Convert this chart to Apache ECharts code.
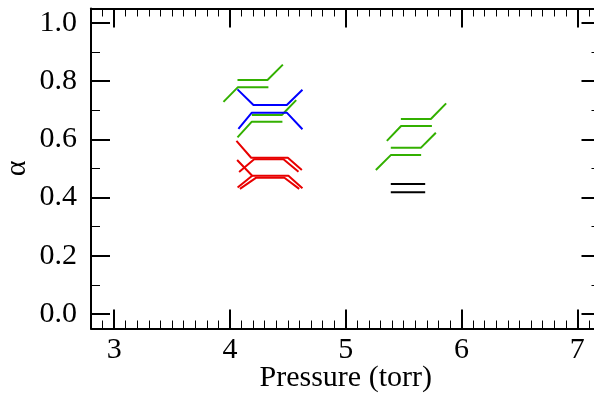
<!DOCTYPE html>
<html>
<head>
<meta charset="utf-8">
<script src="https://cdn.jsdelivr.net/npm/echarts@6/dist/echarts.min.js"></script>
<style>
  html, body { margin: 0; padding: 0; background: #fff; }
  #chart { width: 594px; height: 394px; }
</style>
</head>
<body>
<div id="chart"></div>
<script>
// tick values
const xMajor = [3, 4, 5, 6, 7]
const yMajor = [0, 0.2, 0.4, 0.6, 0.8, 1.0]
const yMinor = [0.1, 0.3, 0.5, 0.7, 0.9]

// line segments, [pressure, alpha]
const greenLines = [
  [[4.065, 0.804], [4.324, 0.804], [4.457, 0.857]],
  [[3.944, 0.729], [4.067, 0.779], [4.332, 0.779]],
  [[4.189, 0.684], [4.448, 0.684], [4.572, 0.735]],
  [[4.065, 0.607], [4.189, 0.661], [4.453, 0.661]],
  [[5.476, 0.670], [5.735, 0.670], [5.867, 0.724]],
  [[5.355, 0.595], [5.478, 0.646], [5.744, 0.646]],
  [[5.389, 0.571], [5.648, 0.571], [5.778, 0.623]],
  [[5.260, 0.495], [5.389, 0.546], [5.651, 0.546]]
]
const blueLines = [
  [[4.065, 0.772], [4.203, 0.718], [4.491, 0.718], [4.626, 0.771]],
  [[4.073, 0.636], [4.189, 0.692], [4.491, 0.692], [4.626, 0.635]]
]
const redLines = [
  [[4.056, 0.595], [4.183, 0.537], [4.500, 0.537], [4.621, 0.495]],
  [[4.079, 0.488], [4.209, 0.532], [4.462, 0.532], [4.592, 0.489]],
  [[4.062, 0.529], [4.192, 0.475], [4.505, 0.475], [4.626, 0.432]],
  [[4.086, 0.430], [4.224, 0.468], [4.470, 0.468], [4.598, 0.430]],
  [[4.066, 0.435], [4.192, 0.475]]
]
const blackLines = [
  [[5.389, 0.447], [5.686, 0.447]],
  [[5.389, 0.418], [5.686, 0.418]]
]

// minor ticks every 0.1 on x
const xMinor = []
for (let k = 28; k <= 72; k++) {
  if (k % 10 !== 0) xMinor.push(k / 10)
}

const font = 'Liberation Serif'
const series = []
const addLines = (lines, color) => {
  lines.forEach((pts) => {
    series.push({
      type: 'line',
      data: pts,
      showSymbol: false,
      symbol: 'none',
      silent: true,
      lineStyle: { color: color, width: 2 },
      xAxisIndex: 0,
      yAxisIndex: 0
    })
  })
}
addLines(greenLines, '#33b000')
addLines(blueLines, '#0000ff')
addLines(redLines, '#e80000')
addLines(blackLines, '#000000')

// build a frame axis (major or minor ticks)
const xAx = (pos, ticks, len, width, withLabel) => ({
  type: 'value', position: pos, min: 2.8, max: 7.2,
  axisLine: { show: withLabel, onZero: false, lineStyle: { color: '#000', width: 2 } },
  splitLine: { show: false },
  axisTick: { show: true, inside: true, length: len, customValues: ticks, lineStyle: { color: '#000', width: width } },
  axisLabel: withLabel && pos === 'bottom'
    ? { show: true, customValues: xMajor, color: '#000', fontFamily: font, fontSize: 30, margin: 7 }
    : { show: false }
})
const yAx = (pos, ticks, len, width, withLabel) => ({
  type: 'value', position: pos, min: -0.05, max: 1.05,
  axisLine: { show: withLabel, onZero: false, lineStyle: { color: '#000', width: 2 } },
  splitLine: { show: false },
  axisTick: { show: true, inside: true, length: len, customValues: ticks, lineStyle: { color: '#000', width: width } },
  axisLabel: withLabel && pos === 'left'
    ? { show: true, customValues: yMajor, color: '#000', fontFamily: font, fontSize: 30, margin: 14,
        formatter: (v) => v.toFixed(1) }
    : { show: false }
})

const xAxes = [
  Object.assign(xAx('bottom', xMajor, 19, 2, true), {
    name: 'Pressure (torr)', nameLocation: 'middle', nameGap: 35, nameMoveOverlap: false,
    nameTextStyle: { color: '#000', fontFamily: font, fontSize: 30 }
  }),
  xAx('bottom', xMinor, 8, 1, false),
  xAx('top', xMajor, 19, 2, true),
  xAx('top', xMinor, 8, 1, false)
]
const yAxes = [
  Object.assign(yAx('left', yMajor, 19, 2, true), {
    name: 'α', nameLocation: 'middle', nameGap: 59, nameRotate: 90, nameMoveOverlap: false,
    nameTextStyle: { color: '#000', fontFamily: font, fontSize: 30 }
  }),
  yAx('left', yMinor, 9, 1, false),
  yAx('right', yMajor, 19, 2, true),
  yAx('right', yMinor, 9, 1, false)
]

const chart = echarts.init(document.getElementById('chart'), null, { renderer: 'canvas' })
chart.setOption({
  animation: false,
  backgroundColor: '#fff',
  grid: { left: 91, top: 8.5, right: -6.5, bottom: 65.5, containLabel: false, outerBoundsMode: 'none' },
  xAxis: xAxes,
  yAxis: yAxes,
  series: series
})
</script>
</body>
</html>
